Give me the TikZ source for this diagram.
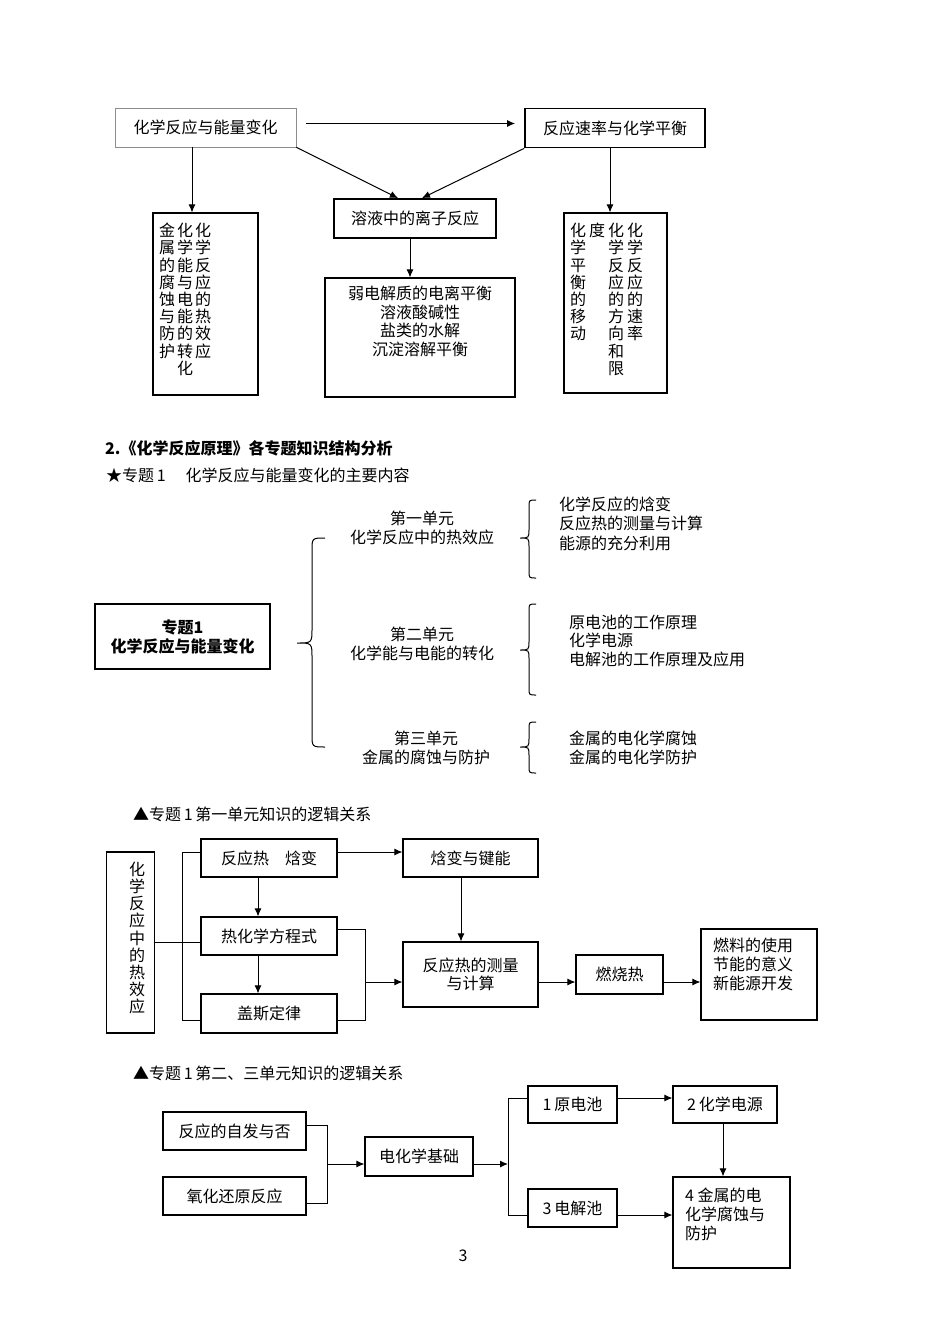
\documentclass[tikz,border=0pt]{standalone}
\usepackage{fontspec}
\setmainfont{Noto Sans CJK SC}
\usetikzlibrary{arrows.meta}

% geschweifte Klammer: x Spitze, x Linie, x Ende, y oben, y Mitte, y unten
\newcommand\Klammer[6]{%
  \draw[klammer] (#3,#4) .. controls (#2,#4) .. (#2,{#4+#3-#2})
    -- (#2,{#5-#2+#1}) .. controls (#2,#5) .. (#1,#5)
    .. controls (#2,#5) .. (#2,{#5+#2-#1})
    -- (#2,{#6-#3+#2}) .. controls (#2,#6) .. (#3,#6);}

\begin{document}
\begin{tikzpicture}[x=1pt, y=-1pt, >={Latex[length=8pt,width=7pt]},
  every node/.style={font=\fontsize{16}{19}\selectfont, inner sep=0pt},
  kasten/.style={draw, line width=1.1pt, align=center},
  duenn/.style={draw=black!45, line width=0.7pt, align=center},
  dick/.style={draw, line width=1.8pt, align=center},
  spalte/.style={align=center, anchor=north, font=\fontsize{16}{17.2}\selectfont},
  zeile/.style={align=left, anchor=west},
  pfeil/.style={->, line width=1pt},
  linie/.style={line width=1pt},
  klammer/.style={line width=1pt}]

\useasboundingbox (0,0) rectangle (950,1344);

% Teil 1: Uebersicht
\node[duenn, minimum width=181, minimum height=39] at (205.5,127.5) (A) {化学反应与能量变化};
\node[dick, minimum width=180, minimum height=39] at (615,128) (B) {反应速率与化学平衡};
\node[dick, minimum width=162, minimum height=39] at (415,218.5) (C) {溶液中的离子反应};

\node[kasten, minimum width=105, minimum height=182] at (205.5,304) (LK) {};
\node[spalte] at (203,223) (LK1) {化\\学\\反\\应\\的\\热\\效\\应};
\node[spalte] at (185,223) (LK2) {化\\学\\能\\与\\电\\能\\的\\转\\化};
\node[spalte] at (167,223) (LK3) {金\\属\\的\\腐\\蚀\\与\\防\\护};

\node[kasten, minimum width=190, minimum height=119] at (420,337.5) (M) {};
\node[align=center, anchor=north, font=\fontsize{16}{18.5}\selectfont] at (420,286) (MT)
  {弱电解质的电离平衡\\溶液酸碱性\\盐类的水解\\沉淀溶解平衡};

\node[kasten, minimum width=103, minimum height=180] at (615.5,303) (RK) {};
\node[spalte] at (635,223) (RK1) {化\\学\\反\\应\\的\\速\\率};
\node[spalte] at (616,223) (RK2) {化\\学\\反\\应\\的\\方\\向\\和\\限};
\node[spalte] at (597,223) (RK3) {度};
\node[spalte] at (578,223) (RK4) {化\\学\\平\\衡\\的\\移\\动};

\draw[pfeil, shorten <=10pt, shorten >=9pt] ([yshift=4pt]A.east) -- ([yshift=4pt]A.east -| B.west);
\draw[pfeil] ([xshift=-13.5pt]A.south) -- ([xshift=-13.5pt]A.south |- LK.north);
\draw[pfeil] (A.south east) -- ([xshift=-17pt]C.north);
\draw[pfeil] (B.south west) -- ([xshift=7pt]C.north);
\draw[pfeil] ([xshift=-5pt]B.south) -- ([xshift=-5pt]B.south |- RK.north);
\draw[pfeil] ([xshift=-5pt]C.south) -- ([xshift=-5pt]C.south |- M.north);

% Teil 2: Wissensstruktur
\node[zeile, font=\bfseries\fontsize{16}{19}\selectfont] at (105,448) (T2)
  {2.《化学反应原理》各专题知识结构分析};
\node[zeile] at (106,475) (T3) {★专题\,1\hspace{20pt}化学反应与能量变化的主要内容};

\node[draw, line width=1.4pt, align=center, minimum width=175, minimum height=65,
  font=\bfseries\fontsize{16}{19}\selectfont] at (182.5,636.5) (S1) {专题1\\化学反应与能量变化};

\node[align=center] at (422,527.5) (E1) {第一单元\\化学反应中的热效应};
\node[align=center] at (422,644) (E2) {第二单元\\化学能与电能的转化};
\node[align=center] at (426,747.5) (E3) {第三单元\\金属的腐蚀与防护};

\node[zeile, font=\fontsize{16}{19.5}\selectfont] at (559,523.5) (L1)
  {化学反应的焓变\\反应热的测量与计算\\能源的充分利用};
\node[zeile, font=\fontsize{16}{18.5}\selectfont] at (569,640.5) (L2)
  {原电池的工作原理\\化学电源\\电解池的工作原理及应用};
\node[zeile] at (569,747.5) (L3) {金属的电化学腐蚀\\金属的电化学防护};

\Klammer{297}{312}{325}{538}{643}{747}
\Klammer{520}{529}{536}{500}{538}{578}
\Klammer{520}{529}{536}{604}{650}{695}
\Klammer{520}{529}{536}{722}{747}{773}

% Teil 3: erste Einheit
\node[zeile] at (133,814) (H3) {▲专题\,1\,第一单元知识的逻辑关系};

\node[kasten, minimum width=48, minimum height=181] at (130.5,942.5) (VB) {};
\node[spalte, font=\fontsize{16}{17.1}\selectfont] at (137,862) (VBT)
  {化\\学\\反\\应\\中\\的\\热\\效\\应};

\node[kasten, minimum width=136, minimum height=38] at (269,858) (RH) {反应热\quad 焓变};
\node[kasten, minimum width=136, minimum height=38] at (269,936) (TH) {热化学方程式};
\node[kasten, minimum width=136, minimum height=39] at (269,1013.5) (GS) {盖斯定律};
\node[kasten, minimum width=135, minimum height=38] at (470.5,858) (EV) {焓变与键能};
\node[kasten, minimum width=135, minimum height=65, font=\fontsize{16}{18}\selectfont]
  at (470.5,974.5) (MS) {反应热的测量\\与计算};
\node[kasten, minimum width=87, minimum height=39] at (619.5,974.5) (BR) {燃烧热};
\node[kasten, minimum width=116, minimum height=91] at (759,974.5) (FU) {};
\node[zeile] at (713,964) (FUT) {燃料的使用\\节能的意义\\新能源开发};

\coordinate (lo) at (182,852);
\coordinate (lu) at (182,1020);
\coordinate (ro) at (365,929);
\coordinate (ru) at (365,1020);
\coordinate (rm) at (365,982);

\draw[linie] (VB.east) -- (VB.east -| TH.west);
\draw[linie] (lo -| RH.west) -- (lo) -- (lu) -- (lu -| GS.west);
\draw[pfeil] ([xshift=-11pt]RH.south) -- ([xshift=-11pt]RH.south |- TH.north);
\draw[pfeil] ([xshift=-11pt]TH.south) -- ([xshift=-11pt]TH.south |- GS.north);
\draw[pfeil] (RH.east |- lo) -- (EV.west |- lo);
\draw[pfeil] ([xshift=-9.5pt]EV.south) -- ([xshift=-9.5pt]EV.south |- MS.north);
\draw[linie] (ro -| TH.east) -- (ro) -- (ru) -- (ru -| GS.east);
\draw[pfeil] (rm) -- (rm -| MS.west);
\draw[pfeil] (MS.east |- rm) -- (BR.west |- rm);
\draw[pfeil] (BR.east |- rm) -- (FU.west |- rm);

% Teil 4: zweite und dritte Einheit
\node[zeile] at (133,1073) (H4) {▲专题\,1\,第二、三单元知识的逻辑关系};

\node[kasten, minimum width=143, minimum height=38] at (234.5,1131) (SP) {反应的自发与否};
\node[kasten, minimum width=143, minimum height=38] at (234.5,1196) (RX) {氧化还原反应};
\node[kasten, minimum width=108, minimum height=39] at (419,1156.5) (EC) {电化学基础};
\node[kasten, minimum width=89, minimum height=37] at (572.5,1104.5) (GZ) {1\,原电池};
\node[kasten, minimum width=89, minimum height=38] at (572.5,1208) (EZ) {3\,电解池};
\node[kasten, minimum width=104, minimum height=37] at (725,1104.5) (CS) {2\,化学电源};
\node[kasten, minimum width=117, minimum height=91] at (731.5,1222.5) (KO) {};
\node[zeile] at (685,1214) (KOT) {4 金属的电\\化学腐蚀与\\防护};

\coordinate (ko1) at (327,1125);
\coordinate (ku1) at (327,1203);
\coordinate (km1) at (327,1164);
\coordinate (kp) at (508,1164);
\coordinate (ko2) at (508,1098);
\coordinate (ku2) at (508,1215);

\draw[linie] (ko1 -| SP.east) -- (ko1) -- (ku1) -- (ku1 -| RX.east);
\draw[pfeil] (km1) -- (km1 -| EC.west);
\draw[pfeil] (EC.east |- kp) -- (kp);
\draw[linie] (ko2 -| GZ.west) -- (ko2) -- (ku2) -- (ku2 -| EZ.west);
\draw[pfeil] (GZ.east |- ko2) -- (CS.west |- ko2);
\draw[pfeil] ([xshift=-2pt]CS.south) -- ([xshift=-2pt]CS.south |- KO.north);
\draw[pfeil] (EZ.east |- ku2) -- (KO.west |- ku2);

% Seitenzahl
\node at (463,1256) (S) {3};

\end{tikzpicture}
\end{document}
